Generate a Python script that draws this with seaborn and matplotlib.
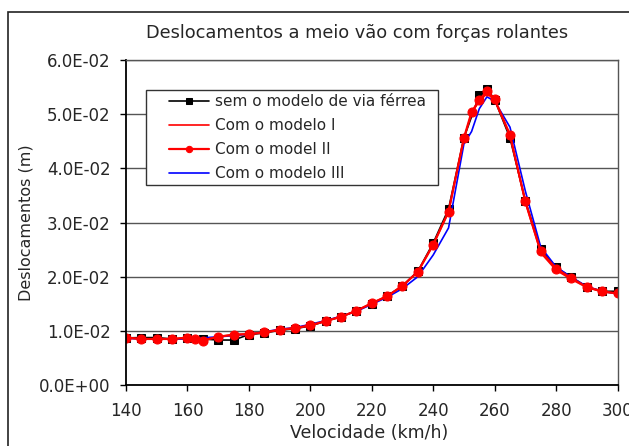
import matplotlib
matplotlib.use("Agg")
import matplotlib.pyplot as plt
from matplotlib.ticker import FuncFormatter, MultipleLocator
from matplotlib.patches import Rectangle
import seaborn as sns
import pandas as pd

# ---- data ----
vel_black = [140, 145, 150, 155, 160, 165, 170, 175, 180, 185, 190, 195, 200, 205, 210, 215,
             220, 225, 230, 235, 240, 245, 250, 255, 257.5, 260, 265, 270, 275, 280, 285, 290, 295, 300]
desl_black = [0.0087, 0.00875, 0.00875, 0.0085, 0.0086, 0.0085, 0.0083, 0.0083, 0.0093, 0.0096,
              0.0101, 0.0104, 0.0109, 0.0118, 0.0126, 0.0137, 0.0150, 0.0164, 0.0183, 0.0210,
              0.0262, 0.0325, 0.0456, 0.0535, 0.0547, 0.0527, 0.0456, 0.0340, 0.0251, 0.0217,
              0.0199, 0.0181, 0.0173, 0.0173]

vel_red = [140, 145, 150, 155, 160, 162.5, 165, 170, 175, 180, 185, 190, 195, 200, 205, 210, 215,
           220, 225, 230, 235, 240, 245, 250, 252.5, 255, 257.5, 260, 265, 270, 275, 280, 285, 290,
           295, 300]
desl_mod1 = [0.0087, 0.0085, 0.0085, 0.0085, 0.0087, 0.0085, 0.0083, 0.0089, 0.0093, 0.0094,
             0.0097, 0.0102, 0.0105, 0.0110, 0.0118, 0.0126, 0.0137, 0.0151, 0.0164, 0.0183,
             0.0209, 0.0259, 0.0320, 0.0455, 0.0502, 0.0524, 0.0538, 0.0526, 0.0460, 0.0337,
             0.0244, 0.0212, 0.0195, 0.0180, 0.0172, 0.0169]
desl_mod2 = [0.00875, 0.0085, 0.0085, 0.0085, 0.00875, 0.0085, 0.0082, 0.0089, 0.0093, 0.0094,
             0.0097, 0.0102, 0.0105, 0.0110, 0.0118, 0.0126, 0.0137, 0.0151, 0.0164, 0.0183,
             0.0209, 0.0259, 0.0320, 0.0456, 0.0504, 0.0526, 0.0543, 0.0528, 0.0462, 0.0339,
             0.0247, 0.0215, 0.0197, 0.0181, 0.0173, 0.0169]

vel_blue = [140, 145, 150, 155, 160, 165, 170, 175, 180, 185, 190, 195, 200, 205, 210, 215,
            220, 225, 230, 235, 240, 245, 250, 252.5, 255, 257.5, 260, 265, 270, 275, 280, 285,
            290, 295, 300]
desl_mod3 = [0.0086, 0.0085, 0.0085, 0.0085, 0.0085, 0.0087, 0.0089, 0.0091, 0.0094, 0.0098,
             0.0103, 0.0106, 0.0112, 0.0119, 0.0127, 0.0136, 0.0149, 0.0162, 0.0178, 0.0200,
             0.0240, 0.0290, 0.0445, 0.0468, 0.0510, 0.0532, 0.0524, 0.0476, 0.0358, 0.0255,
             0.0218, 0.0199, 0.0182, 0.0173, 0.0168]

labels = ["sem o modelo de via férrea", "Com o modelo I", "Com o model II", "Com o modelo III"]
title = "Deslocamentos a meio vão com forças rolantes"
xlabel = "Velocidade (km/h)"
ylabel = "Deslocamentos (m)"

df_black = pd.DataFrame({"v": vel_black, "d": desl_black})
df_m1 = pd.DataFrame({"v": vel_red, "d": desl_mod1})
df_m2 = pd.DataFrame({"v": vel_red, "d": desl_mod2})
df_m3 = pd.DataFrame({"v": vel_blue, "d": desl_mod3})

sns.set_style("white")
plt.rcParams["font.family"] = ["DejaVu Sans"]

fig = plt.figure(figsize=(6.29, 4.46), dpi=100)
W, H = 629, 446
left, right, top, bottom = 126, 617.5, 60, 385
ax = fig.add_axes([left / W, 1 - bottom / H, (right - left) / W, (bottom - top) / H])


def ax_x(px):
    return (px - left) / (right - left)


def ax_y(py):
    return 1 - (py - top) / (bottom - top)


# outer frame of the figure
fig.patches.append(Rectangle((8 / W, -0.1), 1.2, 1 - 12 / H + 0.1, transform=fig.transFigure,
                             fill=False, edgecolor="#222222", linewidth=1.2))

sns.lineplot(data=df_black, x="v", y="d", ax=ax, color="black", marker="s", markersize=5.5,
             markeredgecolor="black", linewidth=1.2, label=labels[0], sort=False)
sns.lineplot(data=df_m3, x="v", y="d", ax=ax, color="#0000ff", linewidth=1.2,
             label=labels[3], sort=False)
sns.lineplot(data=df_m1, x="v", y="d", ax=ax, color="#ff0000", linewidth=1.2,
             label=labels[1], sort=False)
sns.lineplot(data=df_m2, x="v", y="d", ax=ax, color="#ff0000", marker="o", markersize=6.5,
             markeredgecolor="#ff0000", linewidth=1.6, label=labels[2], sort=False)

ax.set_xlim(140, 300)
ax.set_ylim(0, 0.06)
ax.xaxis.set_major_locator(MultipleLocator(20))
ax.yaxis.set_major_locator(MultipleLocator(0.01))
ax.yaxis.set_major_formatter(FuncFormatter(lambda v, p: f"{v:.1E}"))
ax.grid(axis="y", color="#555555", linewidth=1.0)
ax.grid(axis="x", visible=False)
ax.set_axisbelow(True)
for s in ["left", "bottom"]:
    ax.spines[s].set_color("black")
    ax.spines[s].set_linewidth(1.3)
for s in ["top", "right"]:
    ax.spines[s].set_color("#555555")
    ax.spines[s].set_linewidth(1.0)
ax.tick_params(axis="both", which="major", direction="out", length=4, width=1,
               color="black", labelsize=12, left=True, bottom=True)
ax.tick_params(axis="y", pad=7)
ax.tick_params(axis="x", pad=8)

ax.set_xlabel(xlabel, fontsize=12.5)
ax.set_ylabel(ylabel, fontsize=11.5)
ax.xaxis.set_label_coords(ax_x(369), ax_y(433))
ax.yaxis.set_label_coords(ax_x(26), ax_y(223))
ax.xaxis.label.set_va("center")
ax.yaxis.label.set_va("center")
fig.text(357 / W, 1 - 33 / H, title, fontsize=12.75, ha="center", va="center")

# legend box (drawn separately to get the wide left padding of the original)
ax.add_patch(Rectangle((ax_x(146), ax_y(185)), ax_x(438) - ax_x(146), ax_y(90) - ax_y(185),
                       transform=ax.transAxes, facecolor="white", edgecolor="#333333",
                       linewidth=1.0, zorder=4))

handles, labs = ax.get_legend_handles_labels()
order = [labs.index(l) for l in labels]
leg = ax.legend([handles[i] for i in order], [labs[i] for i in order],
                loc="upper left", bbox_to_anchor=(ax_x(169), ax_y(94)),
                borderaxespad=0, fontsize=11, frameon=False,
                handlelength=2.6, handletextpad=0.4, labelspacing=0.6, borderpad=0,
                markerscale=0.7)
leg.set_zorder(5)

fig.savefig("out.png", dpi=100)
